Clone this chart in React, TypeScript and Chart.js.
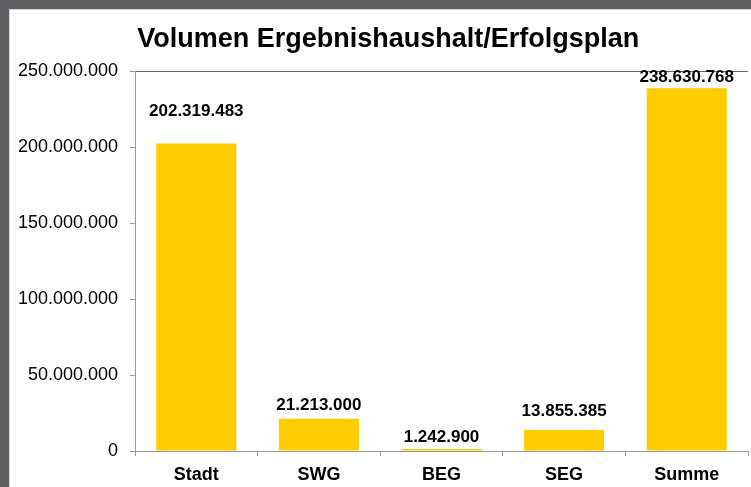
import React, { useEffect, useRef } from "react";
import { Chart, registerables } from "chart.js";

Chart.register(...registerables);

const categories = ["Stadt", "SWG", "BEG", "SEG", "Summe"];
const volumes = [202319483, 21213000, 1242900, 13855385, 238630768];
const yMax = 250000000;
const yStep = 50000000;
const titleText = "Volumen Ergebnishaushalt/Erfolgsplan";
// vertical gap (px) between each bar top and its value label, as placed in the original
const labelGap = [27, 9, 7, 13.5, 6.7];

const FONT = "'Liberation Sans', Arial, sans-serif";

function fmt(n: number): string {
  return Math.round(n)
    .toString()
    .replace(/\B(?=(\d{3})+(?!\d))/g, ".");
}

const valueLabels = {
  id: "valueLabels",
  afterDatasetsDraw(chart: any) {
    const ctx = chart.ctx;
    const meta = chart.getDatasetMeta(0);
    const data = chart.data.datasets[0].data as number[];
    ctx.save();
    ctx.font = `bold 17px ${FONT}`;
    ctx.fillStyle = "#000";
    ctx.textAlign = "center";
    ctx.textBaseline = "alphabetic";
    meta.data.forEach((bar: any, i: number) => {
      ctx.fillText(fmt(data[i]), bar.x, bar.y - labelGap[i]);
    });
    ctx.restore();
  },
};

const chartTitle = {
  id: "chartTitle",
  afterDraw(chart: any) {
    const ctx = chart.ctx;
    const area = chart.chartArea;
    ctx.save();
    ctx.font = `bold 27px ${FONT}`;
    ctx.fillStyle = "#000";
    ctx.textAlign = "center";
    ctx.textBaseline = "alphabetic";
    const cx = area.left + (area.right - area.left) * 0.413;
    ctx.fillText(titleText, cx, area.top - 24);
    ctx.restore();
  },
};

export default function App() {
  const ref = useRef<HTMLCanvasElement>(null);
  useEffect(() => {
    if (!ref.current) return;
    const chart = new Chart(ref.current, {
      type: "bar",
      data: {
        labels: categories,
        datasets: [
          {
            data: volumes,
            backgroundColor: "#FFCC00",
            borderWidth: 0,
            barPercentage: 0.653,
            categoryPercentage: 1,
          },
        ],
      },
      options: {
        animation: false,
        responsive: false,
        maintainAspectRatio: false,
        layout: { padding: { left: 0, right: 3, top: 61, bottom: 0 } },
        plugins: {
          legend: { display: false },
          tooltip: { enabled: false },
          title: { display: false },
        },
        scales: {
          x: {
            offset: true,
            grid: {
              display: true,
              offset: true,
              drawOnChartArea: false,
              drawTicks: true,
              tickLength: 5,
              color: "#999",
              tickColor: "#999",
            },
            border: { display: true, color: "#999", width: 1 },
            ticks: {
              color: "#000",
              font: { family: FONT, size: 18, weight: "bold" },
              padding: 8,
            },
            afterFit: (axis: any) => {
              axis.height = 36;
            },
          },
          y: {
            min: 0,
            max: yMax,
            ticks: {
              stepSize: yStep,
              color: "#000",
              font: { family: FONT, size: 18 },
              padding: 12,
              callback: (v: any) => fmt(Number(v)),
            },
            grid: {
              drawTicks: true,
              tickLength: 5,
              tickColor: "#999",
              color: (c: any) =>
                c.tick && c.tick.value === yMax ? "#666" : "rgba(0,0,0,0)",
            },
            border: { display: true, color: "#999", width: 1 },
            afterFit: (axis: any) => {
              axis.width = 125;
            },
          },
        },
      },
      plugins: [valueLabels, chartTitle],
    });
    return () => chart.destroy();
  }, []);

  return (
    <div
      style={{
        position: "absolute",
        left: 0,
        top: 0,
        width: 751,
        height: 487,
        background: "#605f64",
        overflow: "hidden",
      }}
    >
      <div
        style={{
          position: "absolute",
          left: 9,
          top: 9,
          width: 742,
          height: 478,
          background: "#fff",
          borderTop: "1px solid #d4d4d4",
          borderLeft: "1px solid #d4d4d4",
          boxSizing: "border-box",
        }}
      >
        <canvas ref={ref} width={741} height={477} style={{ display: "block" }} />
      </div>
    </div>
  );
}
